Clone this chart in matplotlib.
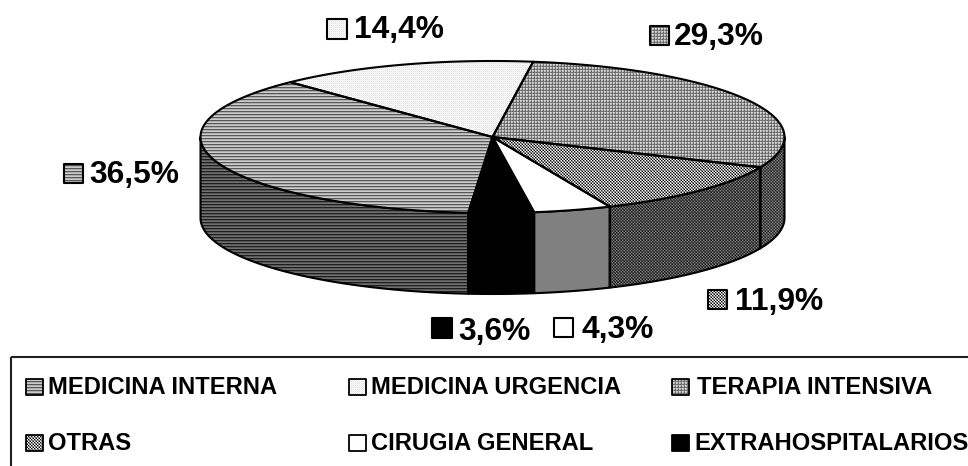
import numpy as np
import matplotlib
matplotlib.use("Agg")
import matplotlib.pyplot as plt
from matplotlib.patches import Polygon, Rectangle

plt.rcParams['font.family'] = ['Liberation Sans', 'DejaVu Sans']

# Data, clockwise from the pie's start angle
categories = ["TERAPIA INTENSIVA", "OTRAS", "CIRUGIA GENERAL",
              "EXTRAHOSPITALARIOS", "MEDICINA INTERNA", "MEDICINA URGENCIA"]
values = [29.3, 11.9, 4.3, 3.6, 36.5, 14.4]
value_labels = ["29,3%", "11,9%", "4,3%", "3,6%", "36,5%", "14,4%"]
legend_order = ["MEDICINA INTERNA", "MEDICINA URGENCIA", "TERAPIA INTENSIVA",
                "OTRAS", "CIRUGIA GENERAL", "EXTRAHOSPITALARIOS"]

W, H = 968, 466
CX, CY, RX, RY, DEPTH = 492.5, 137, 292, 76, 81
START = 8.0

TOP = {
    "MEDICINA INTERNA": [[.34], [.68], [.80]],
    "MEDICINA URGENCIA": [[.93, 1.0], [1.0, .86]],
    "TERAPIA INTENSIVA": [[.40, .52, .40], [.52, .85, .78], [.40, .78, .70]],
    "OTRAS": [[.03, .97, .55], [.97, .10, .60], [.55, .60, .45]],
    "CIRUGIA GENERAL": [[1.0]],
    "EXTRAHOSPITALARIOS": [[0.0]],
}
SIDE = {
    "MEDICINA INTERNA": [[.12], [.34], [.44]],
    "TERAPIA INTENSIVA": [[.12, .50, .30], [.50, .15, .34], [.30, .34, .26]],
    "OTRAS": [[.08, .50, .28], [.50, .12, .30], [.28, .30, .22]],
    "CIRUGIA GENERAL": [[.5]],
    "EXTRAHOSPITALARIOS": [[0.0]],
    "MEDICINA URGENCIA": [[.9]],
}

fig = plt.figure(figsize=(W / 100, H / 100), dpi=100)
ax = fig.add_axes([0, 0, 1, 1])
ax.set_xlim(0, W)
ax.set_ylim(H, 0)
ax.axis("off")


def textured(verts, tile, lw=1.5, z=2):
    """Fill a polygon with a tiled raster pattern and stroke its outline."""
    tile = np.array(tile, dtype=float)
    reps = (H // tile.shape[0] + 1, W // tile.shape[1] + 1)
    tex = np.tile(tile, reps)[:H, :W]
    outline = Polygon(verts, closed=True, fc="none", ec="black", lw=lw,
                      zorder=z + .1, joinstyle="round")
    ax.add_patch(outline)
    im = ax.imshow(tex, cmap="gray", vmin=0, vmax=1, extent=(0, W, H, 0),
                   interpolation="nearest", aspect="auto", zorder=z)
    im.set_clip_path(Polygon(verts, closed=True, transform=ax.transData))


def pt(a):
    a = np.radians(a)
    return CX + RX * np.sin(a), CY - RY * np.cos(a)


total = sum(values)
angle = START
spans = {}
for c, v in zip(categories, values):
    spans[c] = (angle, angle + v / total * 360)
    angle = spans[c][1]

# side walls (only the front half, 90..270 degrees clockwise from the top, shows)
for c in categories:
    a0, a1 = spans[c]
    lo, hi = max(a0, 90), min(a1, 270)
    if lo >= hi:
        continue
    th = np.linspace(lo, hi, 80)
    xs, ys = pt(th)
    verts = np.r_[np.c_[xs, ys], np.c_[xs[::-1], ys[::-1] + DEPTH]]
    textured(verts, SIDE[c], z=2)

# top faces
for c in categories:
    a0, a1 = spans[c]
    th = np.linspace(a0, a1, 120)
    xs, ys = pt(th)
    verts = np.r_[[[CX, CY]], np.c_[xs, ys]]
    textured(verts, TOP[c], z=3)

ax.set_xlim(0, W)
ax.set_ylim(H, 0)


def swatch(x, y, size, c, lw=1.5):
    v = [[x, y], [x + size, y], [x + size, y + size], [x, y + size]]
    textured(v, TOP[c], lw=lw, z=5)


# data labels: category, swatch x, swatch y, swatch size, text x, text y
label_pos = {
    "MEDICINA URGENCIA": (327, 19, 20, 354, 30),
    "TERAPIA INTENSIVA": (650, 26, 19, 674, 37),
    "MEDICINA INTERNA": (64, 164, 19, 89, 175),
    "OTRAS": (708, 290, 19, 735, 302),
    "EXTRAHOSPITALARIOS": (432, 318, 20, 458, 332),
    "CIRUGIA GENERAL": (554, 318, 19, 581, 330),
}
for c, lab in zip(categories, value_labels):
    sx, sy, ss, tx, ty = label_pos[c]
    swatch(sx, sy, ss, c)
    ax.text(tx, ty, lab, fontsize=22.9, fontweight="bold", color="black",
            ha="left", va="center", zorder=6)

# legend frame (runs off the right and bottom edges, as in the reference)
ax.add_patch(Rectangle((11, 357), W + 20, H, fc="none", ec="#222222", lw=1.5,
                       zorder=4, clip_on=False))
leg_x = [26, 349, 672]
leg_y = [387, 443]
leg_text_dx = [22, 22, 25, 22, 22, 22]
for i, c in enumerate(legend_order):
    x = leg_x[i % 3]
    y = leg_y[i // 3]
    swatch(x, y - 8.5, 16.5, c, lw=1.3)
    ax.text(x + leg_text_dx[i], y + 1, c, fontsize=17.1, fontweight="bold",
            color="black", ha="left", va="center", zorder=6)

fig.savefig("out.png", dpi=100)
